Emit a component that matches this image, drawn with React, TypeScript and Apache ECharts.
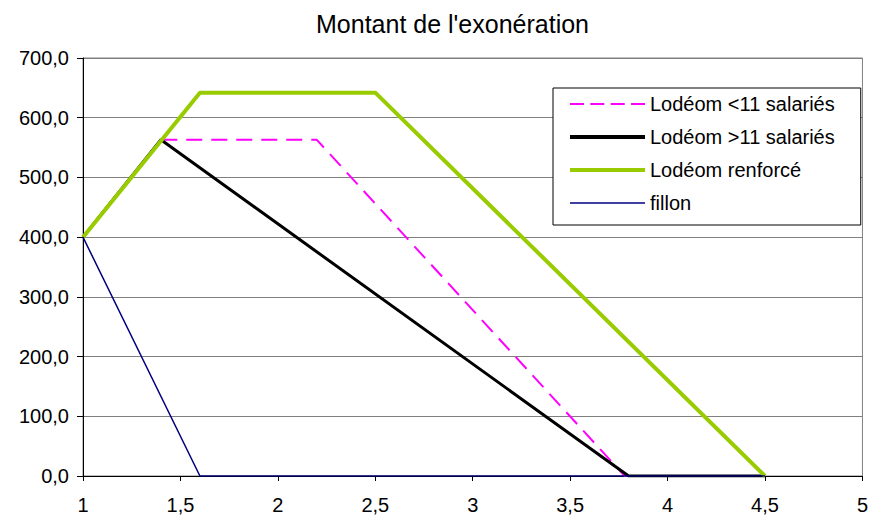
import React, { useEffect, useRef } from "react";
import * as echarts from "echarts";

const titleText = "Montant de l'exonération";
const seriesNames = ["Lodéom <11 salariés", "Lodéom >11 salariés", "Lodéom renforcé", "fillon"];

const xLess11 = [1, 1.4, 2.2, 3.78, 4.5];
const yLess11 = [400, 563, 563, 0, 0];

const xMore11 = [1, 1.4, 3.8, 4.5];
const yMore11 = [400, 563, 0, 0];

const xRenforce = [1, 1.6, 2.5, 4.5];
const yRenforce = [400, 642, 642, 0];

const xFillon = [1, 1.6, 4.5];
const yFillon = [400, 0, 0];

const xTicks = [1, 1.5, 2, 2.5, 3, 3.5, 4, 4.5, 5];
const yTicks = [0, 100, 200, 300, 400, 500, 600, 700];

const pair = (xs: number[], ys: number[]) => xs.map((x, i) => [x, ys[i]]);

const FONT = "'Liberation Sans', Arial, sans-serif";

const legendIcons = [
  "path://M0,0h14v2h-14z M20.3,0h14v2h-14z M40.7,0h14v2h-14z M61,0h14v2h-14z",
  "path://M0,0h75v4h-75z",
  "path://M0,0h75v4h-75z",
  "path://M0,0h75v1.5h-75z",
];

export default function App() {
  const ref = useRef<HTMLDivElement>(null);
  useEffect(() => {
    if (!ref.current) return;
    const chart = echarts.init(ref.current, undefined, { renderer: "svg" });
    chart.setOption({
      animation: false,
      backgroundColor: "#ffffff",
      textStyle: { fontFamily: FONT },
      title: {
        text: titleText,
        left: 311,
        top: 6,
        textStyle: { fontFamily: FONT, fontSize: 25, fontWeight: "normal", color: "#000" },
      },
      grid: {
        left: 83,
        right: 4,
        top: 58,
        bottom: 42,
        show: true,
        borderColor: "#808080",
        borderWidth: 1,
        backgroundColor: "transparent",
      },
      legend: {
        orient: "vertical",
        left: 553,
        top: 88,
        padding: [6, 26, 12, 17],
        itemWidth: 75,
        itemHeight: 14,
        itemGap: 13,
        symbolKeepAspect: true,
        backgroundColor: "#ffffff",
        borderColor: "#000000",
        borderWidth: 1,
        textStyle: { fontFamily: FONT, fontSize: 20, color: "#000", lineHeight: 20 },
        data: seriesNames.map((n, i) => ({ name: n, icon: legendIcons[i] })),
      },
      xAxis: {
        type: "value",
        min: xTicks[0],
        max: xTicks[xTicks.length - 1],
        interval: 0.5,
        axisLine: { show: true, onZero: false, lineStyle: { color: "#000", width: 1 } },
        axisTick: { show: true, inside: false, length: 5, lineStyle: { color: "#000" } },
        splitLine: { show: false },
        axisLabel: {
          margin: 19,
          fontSize: 20,
          color: "#000",
          fontFamily: FONT,
          formatter: (v: number) => String(v).replace(".", ","),
        },
      },
      yAxis: {
        type: "value",
        min: yTicks[0],
        max: yTicks[yTicks.length - 1],
        interval: 100,
        axisLine: { show: true, lineStyle: { color: "#000", width: 1 } },
        axisTick: { show: true, inside: false, length: 6, lineStyle: { color: "#000" } },
        splitLine: { show: true, lineStyle: { color: "#808080", width: 1 } },
        axisLabel: {
          margin: 14,
          fontSize: 20,
          color: "#000",
          fontFamily: FONT,
          formatter: (v: number) => v.toFixed(1).replace(".", ","),
        },
      },
      series: [
        {
          name: seriesNames[0],
          type: "line",
          data: pair(xLess11, yLess11),
          showSymbol: false,
          symbol: "none",
          lineStyle: { color: "#FF00FF", width: 2, type: [16, 9] },
          itemStyle: { color: "#FF00FF" },
          z: 2,
        },
        {
          name: seriesNames[1],
          type: "line",
          data: pair(xMore11, yMore11),
          showSymbol: false,
          symbol: "none",
          lineStyle: { color: "#000000", width: 3 },
          itemStyle: { color: "#000000" },
          z: 3,
        },
        {
          name: seriesNames[2],
          type: "line",
          data: pair(xRenforce, yRenforce),
          showSymbol: false,
          symbol: "none",
          lineStyle: { color: "#99CC00", width: 4 },
          itemStyle: { color: "#99CC00" },
          z: 4,
        },
        {
          name: seriesNames[3],
          type: "line",
          data: pair(xFillon, yFillon),
          showSymbol: false,
          symbol: "none",
          lineStyle: { color: "#000080", width: 1.5 },
          itemStyle: { color: "#000080" },
          z: 5,
        },
      ],
    });
    return () => chart.dispose();
  }, []);
  return (
    <div
      ref={ref}
      style={{ position: "fixed", left: 0, top: 0, width: 871, height: 518 }}
    />
  );
}
